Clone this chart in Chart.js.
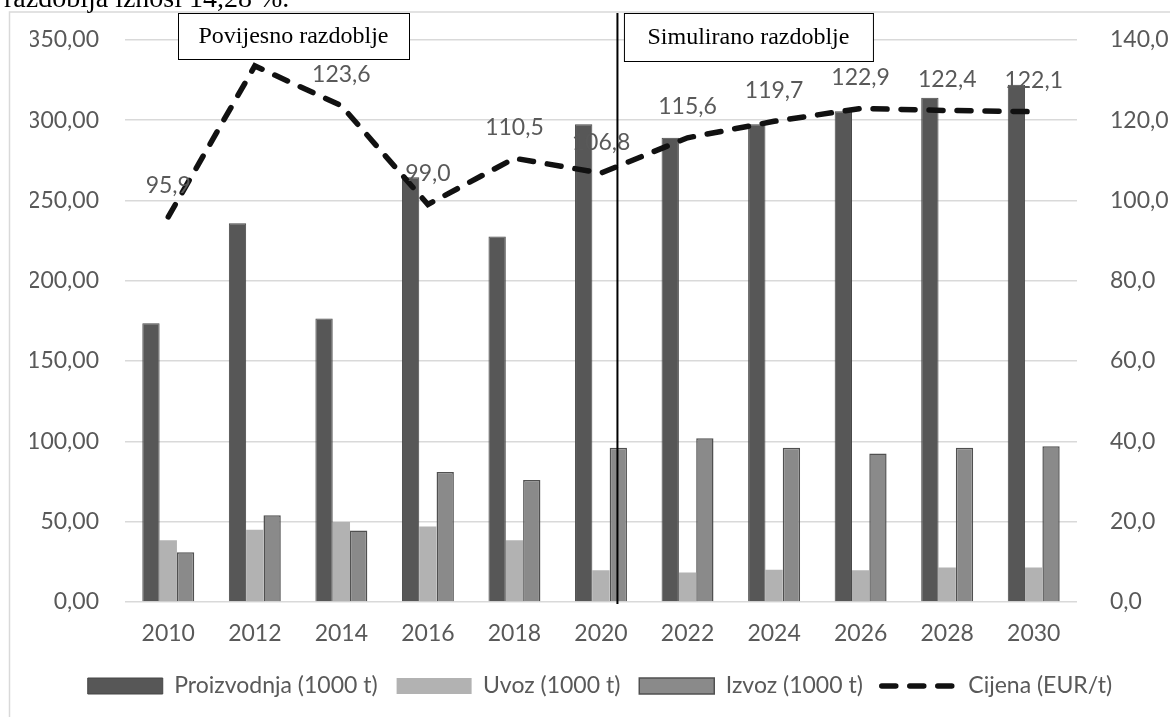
<!DOCTYPE html>
<html>
<head>
<meta charset="utf-8">
<script src="https://cdn.jsdelivr.net/npm/chart.js@4.4.1/dist/chart.umd.min.js"></script>
<style>
  body { margin: 0; background: #fff; overflow: hidden; }
  #wrap { position: relative; width: 1170px; height: 717px; overflow: hidden; }
  #topText {
    position: absolute; left: 4px; top: -16.5px; z-index: 2; white-space: nowrap;
    font-family: "Liberation Serif", serif; font-size: 28px; line-height: 28px; color: #000;
  }
  canvas { position: absolute; left: 0; top: 0; }
</style>
</head>
<body>
<div id="wrap">
  <div id="topText">razdoblja iznosi 14,28 %.</div>
  <canvas id="myChart" width="1170" height="717"></canvas>
</div>
<script>
// data
let years = ["2010", "2012", "2014", "2016", "2018", "2020", "2022", "2024", "2026", "2028", "2030"];
let proizvodnja = [173.5, 235.8, 176.5, 264.5, 227.5, 297.5, 289.0, 297.5, 305.5, 314.0, 322.0];
let uvoz = [38.5, 45.0, 49.8, 47.0, 38.5, 19.8, 18.3, 20.0, 19.8, 21.5, 21.5];
let izvoz = [31.0, 54.0, 44.5, 81.0, 76.0, 96.0, 102.0, 96.0, 92.5, 96.0, 97.0];
let cijena = [95.9, 133.5, 123.6, 99.0, 110.5, 106.8, 115.6, 119.7, 122.9, 122.4, 122.1];

let leftTicks = [0, 50, 100, 150, 200, 250, 300, 350];
let rightTicks = [0, 20, 40, 60, 80, 100, 120, 140];

let gray = "#595959";
let font = "Lato";
let priceDash = [14, 14];

function comma(v, d) {
  return v.toFixed(d).replace(".", ",");
}

// light frame around the chart
const framePlugin = {
  id: "frame",
  beforeDraw(chart) {
    const ctx = chart.ctx;
    ctx.save();
    ctx.strokeStyle = "#d9d9d9";
    ctx.lineWidth = 1.5;
    ctx.beginPath();
    ctx.moveTo(9.5, 717);
    ctx.lineTo(9.5, 12);
    ctx.lineTo(1170, 12);
    ctx.stroke();
    ctx.restore();
  }
};

// value labels above the price line
const labelPlugin = {
  id: "priceLabels",
  afterDatasetsDraw(chart) {
    const ctx = chart.ctx;
    const meta = chart.getDatasetMeta(3);
    ctx.save();
    ctx.fillStyle = gray;
    ctx.font = "23px " + font;
    ctx.textAlign = "center";
    ctx.textBaseline = "middle";
    meta.data.forEach(function (p, i) {
      ctx.fillText(comma(cijena[i], 1), p.x, p.y - 31);
    });
    ctx.restore();
  }
};

// period boxes and the divider line
const periodPlugin = {
  id: "periods",
  afterDraw(chart) {
    const ctx = chart.ctx;
    const x = chart.scales.x;
    const step = x.getPixelForValue(6) - x.getPixelForValue(5);
    const lineX = x.getPixelForValue(5) + step * 0.19;

    ctx.save();
    ctx.strokeStyle = "#000";
    ctx.lineWidth = 2;
    ctx.beginPath();
    ctx.moveTo(lineX, 13);
    ctx.lineTo(lineX, chart.chartArea.bottom + 2);
    ctx.stroke();

    function box(l, t, r, b, text) {
      ctx.fillStyle = "#fff";
      ctx.fillRect(l, t, r - l, b - t);
      ctx.lineWidth = 1;
      ctx.strokeStyle = "#000";
      ctx.strokeRect(l + 0.5, t + 0.5, r - l, b - t);
      ctx.fillStyle = "#000";
      ctx.font = "24px 'Liberation Serif'";
      ctx.textAlign = "center";
      ctx.textBaseline = "middle";
      ctx.fillText(text, (l + r) / 2, (t + b) / 2 + 1);
    }
    box(178, 13, 409, 59, "Povijesno razdoblje");
    box(lineX + 6.5, 13, lineX + 255.5, 61, "Simulirano razdoblje");
    ctx.restore();
  }
};

const ctx = document.getElementById("myChart").getContext("2d");

let chart = new Chart(ctx, {
  type: "bar",
  data: {
    labels: years,
    datasets: [
      {
        label: "Proizvodnja (1000 t)",
        data: proizvodnja,
        backgroundColor: "#575757",
        borderColor: "#474747",
        borderWidth: 1,
        yAxisID: "y",
        order: 1,
        pointStyle: "rect"
      },
      {
        label: "Uvoz (1000 t)",
        data: uvoz,
        backgroundColor: "#b2b2b2",
        borderColor: "#b2b2b2",
        borderWidth: 0,
        yAxisID: "y",
        order: 1,
        pointStyle: "rect"
      },
      {
        label: "Izvoz (1000 t)",
        data: izvoz,
        backgroundColor: "#8a8a8a",
        borderColor: "#505050",
        borderWidth: 1.5,
        yAxisID: "y",
        order: 1,
        pointStyle: "rect"
      },
      {
        type: "line",
        label: "Cijena (EUR/t)",
        data: cijena,
        borderColor: "#111",
        backgroundColor: "#111",
        borderWidth: 5.5,
        borderDash: priceDash,
        borderCapStyle: "round",
        pointRadius: 0,
        tension: 0,
        yAxisID: "y1",
        order: 0,
        pointStyle: "line"
      }
    ]
  },
  options: {
    responsive: false,
    animation: false,
    layout: { padding: { top: 39, left: 30, right: 0, bottom: 9.5 } },
    datasets: {
      bar: { categoryPercentage: 0.6, barPercentage: 1.0 }
    },
    plugins: {
      tooltip: { enabled: false },
      legend: {
        position: "bottom",
        labels: {
          usePointStyle: true,
          pointStyleWidth: 75,
          boxHeight: 16,
          padding: 19,
          color: gray,
          font: { family: font, size: 23 },
          sort: function (a, b) { return a.datasetIndex - b.datasetIndex; },
          generateLabels: function (c) {
            let items = Chart.defaults.plugins.legend.labels.generateLabels(c);
            items.forEach(function (it) {
              if (it.datasetIndex === 3) {
                it.lineDash = priceDash;
                it.lineCap = "round";
                it.lineWidth = 5.5;
              }
            });
            return items;
          }
        }
      }
    },
    scales: {
      x: {
        grid: { display: false },
        border: { display: false },
        ticks: { color: gray, font: { family: font, size: 23 }, padding: 10 },
        afterFit: function (s) { s.height = 53.5; }
      },
      y: {
        position: "left",
        min: 0,
        max: 350,
        grid: { color: "#d9d9d9", lineWidth: 1.5, drawTicks: false },
        border: { display: false },
        ticks: {
          color: gray,
          font: { family: font, size: 23 },
          padding: 26,
          callback: function (v) { return comma(v, 2); }
        },
        afterBuildTicks: function (s) { s.ticks = leftTicks.map(function (v) { return { value: v }; }); },
        afterFit: function (s) { s.width = 95; }
      },
      y1: {
        position: "right",
        min: 0,
        max: 140,
        grid: { display: false },
        border: { display: false },
        ticks: {
          color: gray,
          font: { family: font, size: 23 },
          padding: 25,
          callback: function (v) { return comma(v, 1); }
        },
        afterBuildTicks: function (s) { s.ticks = rightTicks.map(function (v) { return { value: v }; }); },
        afterFit: function (s) { s.width = 93; }
      }
    }
  },
  plugins: [framePlugin, labelPlugin, periodPlugin]
});
</script>
</body>
</html>
